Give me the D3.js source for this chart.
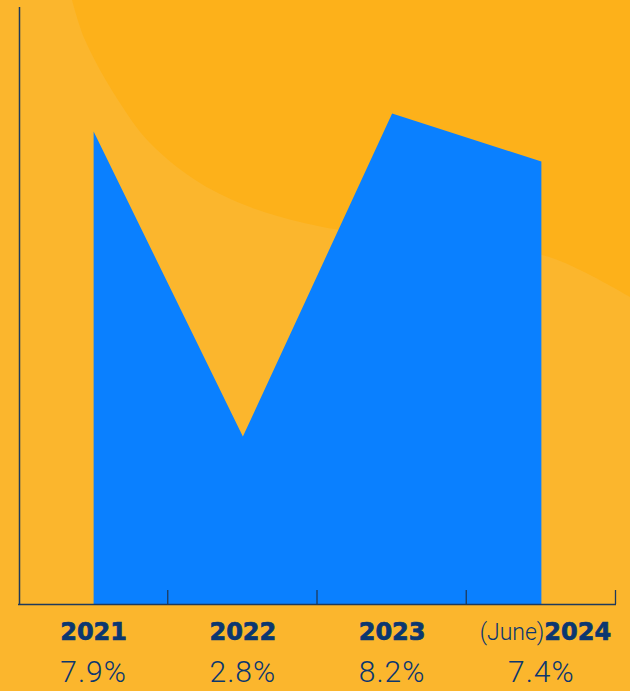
<!DOCTYPE html>
<html>
<head>
<meta charset="utf-8">
<script src="https://cdn.jsdelivr.net/npm/d3@7"></script>
<style>
  html, body { margin: 0; padding: 0; background: #FBB62D; }
  svg { display: block; }
</style>
</head>
<body>
<svg id="chart" width="630" height="691"></svg>
<script>
// Annual rate by year
const years = ["2021", "2022", "2023", "2024"];
const yearPrefix = ["", "", "", "(June)"];
const rates = [7.9, 2.8, 8.2, 7.4];
const rateLabels = ["7.9%", "2.8%", "8.2%", "7.4%"];

const W = 630, H = 691;
const svg = d3.select("#chart");

const ink = "#0B3770";
const axisInk = "#1E3A5C";

// Decorative backdrop: darker sweep across the upper right
const blobEdge = [
  [72, 0], [85, 40], [118, 100], [150, 143], [200, 183], [250, 207],
  [300, 222], [340, 230], [440, 242], [542, 255], [580, 270], [630, 297], [640, 303]
];
const edge = d3.line().curve(d3.curveCatmullRom.alpha(0.5))(blobEdge);
svg.append("path")
  .attr("d", edge + "L640,-10L60,-10Z")
  .attr("fill", "#FDB11A");

// Scales
const x = d3.scaleBand().domain(years).range([19, 616]).paddingInner(0).paddingOuter(0);
const y = d3.scaleLinear().domain([0, 10.1]).range([604, 0]);
const cx = d => x(d) + x.bandwidth() / 2;

const series = years.map((yr, i) => ({ year: yr, value: rates[i] }));

// Area
const area = d3.area()
  .x(d => cx(d.year))
  .y0(y(0))
  .y1(d => y(d.value));

svg.append("path")
  .datum(series)
  .attr("d", area)
  .attr("fill", "#0A80FF");

// Axes
svg.append("line")
  .attr("x1", 19.5).attr("x2", 19.5)
  .attr("y1", 7).attr("y2", y(0) + 0.5)
  .attr("stroke", axisInk).attr("stroke-width", 1.5);

const xAxis = d3.axisBottom(x).tickSize(0).tickFormat("");
const gx = svg.append("g").attr("transform", `translate(0,${y(0)})`).call(xAxis);
gx.select(".domain").attr("stroke", axisInk).attr("stroke-width", 1.5)
  .attr("d", `M18,0.5H616`);

// Band separators, ticking upward
svg.append("g")
  .selectAll("line")
  .data(years)
  .join("line")
  .attr("x1", d => x(d) + x.step() - 0.5)
  .attr("x2", d => x(d) + x.step() - 0.5)
  .attr("y1", y(0) - 14)
  .attr("y2", y(0))
  .attr("stroke", axisInk)
  .attr("stroke-width", 1.3);

// Year labels
const yearText = svg.append("g")
  .selectAll("text")
  .data(series)
  .join("text")
  .attr("x", (d, i) => cx(d.year) + (yearPrefix[i] ? 4 : 0))
  .attr("y", 640)
  .attr("text-anchor", "middle")
  .attr("fill", ink);

yearText.each(function(d, i) {
  const t = d3.select(this);
  if (yearPrefix[i]) {
    t.append("tspan")
      .attr("font-family", "Roboto")
      .attr("font-weight", 300)
      .attr("font-size", 23)
      .text(yearPrefix[i]);
  }
  t.append("tspan")
    .attr("font-family", "DejaVu Sans")
    .attr("font-weight", 700)
    .attr("font-size", 24)
    .attr("stroke", ink)
    .attr("stroke-width", 0.7)
    .text(d.year);
});

// Value labels
svg.append("g")
  .selectAll("text")
  .data(series)
  .join("text")
  .attr("x", d => cx(d.year))
  .attr("y", 682)
  .attr("text-anchor", "middle")
  .attr("font-family", "Roboto")
  .attr("font-weight", 300)
  .attr("font-size", 30)
  .attr("letter-spacing", 1)
  .attr("fill", ink)
  .text((d, i) => rateLabels[i]);
</script>
</body>
</html>
